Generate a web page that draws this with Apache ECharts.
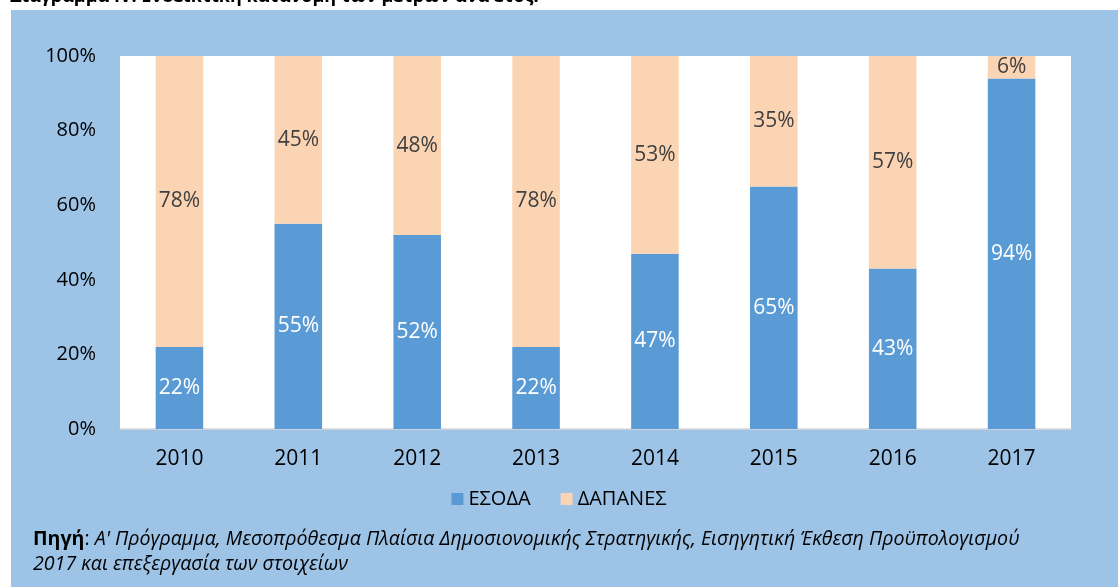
<!DOCTYPE html>
<html>
<head>
<meta charset="utf-8">
<script src="https://cdn.jsdelivr.net/npm/echarts@6/dist/echarts.min.js"></script>
<style>
  html, body { margin: 0; padding: 0; background: #fff; }
  #chart { width: 1118px; height: 587px; }
</style>
</head>
<body>
<div id="chart"></div>
<script>
const years = ['2010', '2011', '2012', '2013', '2014', '2015', '2016', '2017'];
const esoda = [22, 55, 52, 22, 47, 65, 43, 94];
const dapanes = [78, 45, 48, 78, 53, 35, 57, 6];
const yTicks = [0, 20, 40, 60, 80, 100];

const FONT = '"Open Sans", "Noto Sans", sans-serif';

const chart = echarts.init(document.getElementById('chart'));

const option = {
  backgroundColor: '#fff',
  animation: false,
  textStyle: { fontFamily: FONT },
  graphic: [
    {
      type: 'rect',
      z: -10,
      shape: { x: 11, y: 10, width: 1118, height: 600 },
      style: { fill: '#9DC3E6' }
    },
    {
      type: 'text',
      left: 10,
      top: -12,
      style: {
        text: 'Διάγραμμα IV: Ενδεικτική κατανομή των μέτρων ανά έτος.',
        font: 'bold 18px ' + FONT,
        fill: '#000'
      }
    },
    {
      type: 'text',
      left: 33,
      top: 527,
      style: {
        text: '{b|Πηγή}{n|: }{i|Α\' Πρόγραμμα, Μεσοπρόθεσμα Πλαίσια Δημοσιονομικής Στρατηγικής, Εισηγητική Έκθεση Προϋπολογισμού}\n{i|2017 και επεξεργασία των στοιχείων}',
        lineHeight: 25,
        rich: {
          b: { fontFamily: FONT, fontWeight: 'bold', fontSize: 19.6, fill: '#000', lineHeight: 25 },
          n: { fontFamily: FONT, fontSize: 19.6, fill: '#000', lineHeight: 25 },
          i: { fontFamily: FONT, fontStyle: 'italic', fontSize: 19.6, fill: '#000', lineHeight: 25 }
        }
      }
    }
  ],
  grid: {
    left: 120,
    right: 47,
    top: 56,
    bottom: 158,
    show: true,
    backgroundColor: '#fff',
    borderWidth: 0
  },
  legend: {
    top: 484,
    left: 'center',
    icon: 'rect',
    itemWidth: 12,
    itemHeight: 12,
    itemGap: 30,
    textStyle: { fontSize: 20, color: '#000', fontFamily: FONT },
    data: ['ΕΣΟΔΑ', 'ΔΑΠΑΝΕΣ']
  },
  xAxis: {
    type: 'category',
    data: years,
    axisLine: { lineStyle: { color: '#D9D9D9', width: 1.5 } },
    axisTick: { show: false },
    axisLabel: { fontSize: 21, color: '#000', margin: 20 }
  },
  yAxis: {
    type: 'value',
    min: yTicks[0],
    max: yTicks[yTicks.length - 1],
    interval: 20,
    splitLine: { show: false },
    axisLine: { show: false },
    axisTick: { show: false },
    axisLabel: { fontSize: 20, color: '#000', margin: 24, formatter: '{value}%' }
  },
  series: [
    {
      name: 'ΕΣΟΔΑ',
      type: 'bar',
      stack: 'total',
      barWidth: '40%',
      data: esoda,
      itemStyle: { color: '#5B9BD5' },
      label: { show: true, position: 'inside', color: '#fff', fontSize: 21, formatter: '{c}%' }
    },
    {
      name: 'ΔΑΠΑΝΕΣ',
      type: 'bar',
      stack: 'total',
      barWidth: '40%',
      data: dapanes,
      itemStyle: { color: '#FBD4B4' },
      label: { show: true, position: 'inside', color: '#404040', fontSize: 21, formatter: '{c}%' }
    }
  ]
};

chart.setOption(option);
</script>
</body>
</html>
